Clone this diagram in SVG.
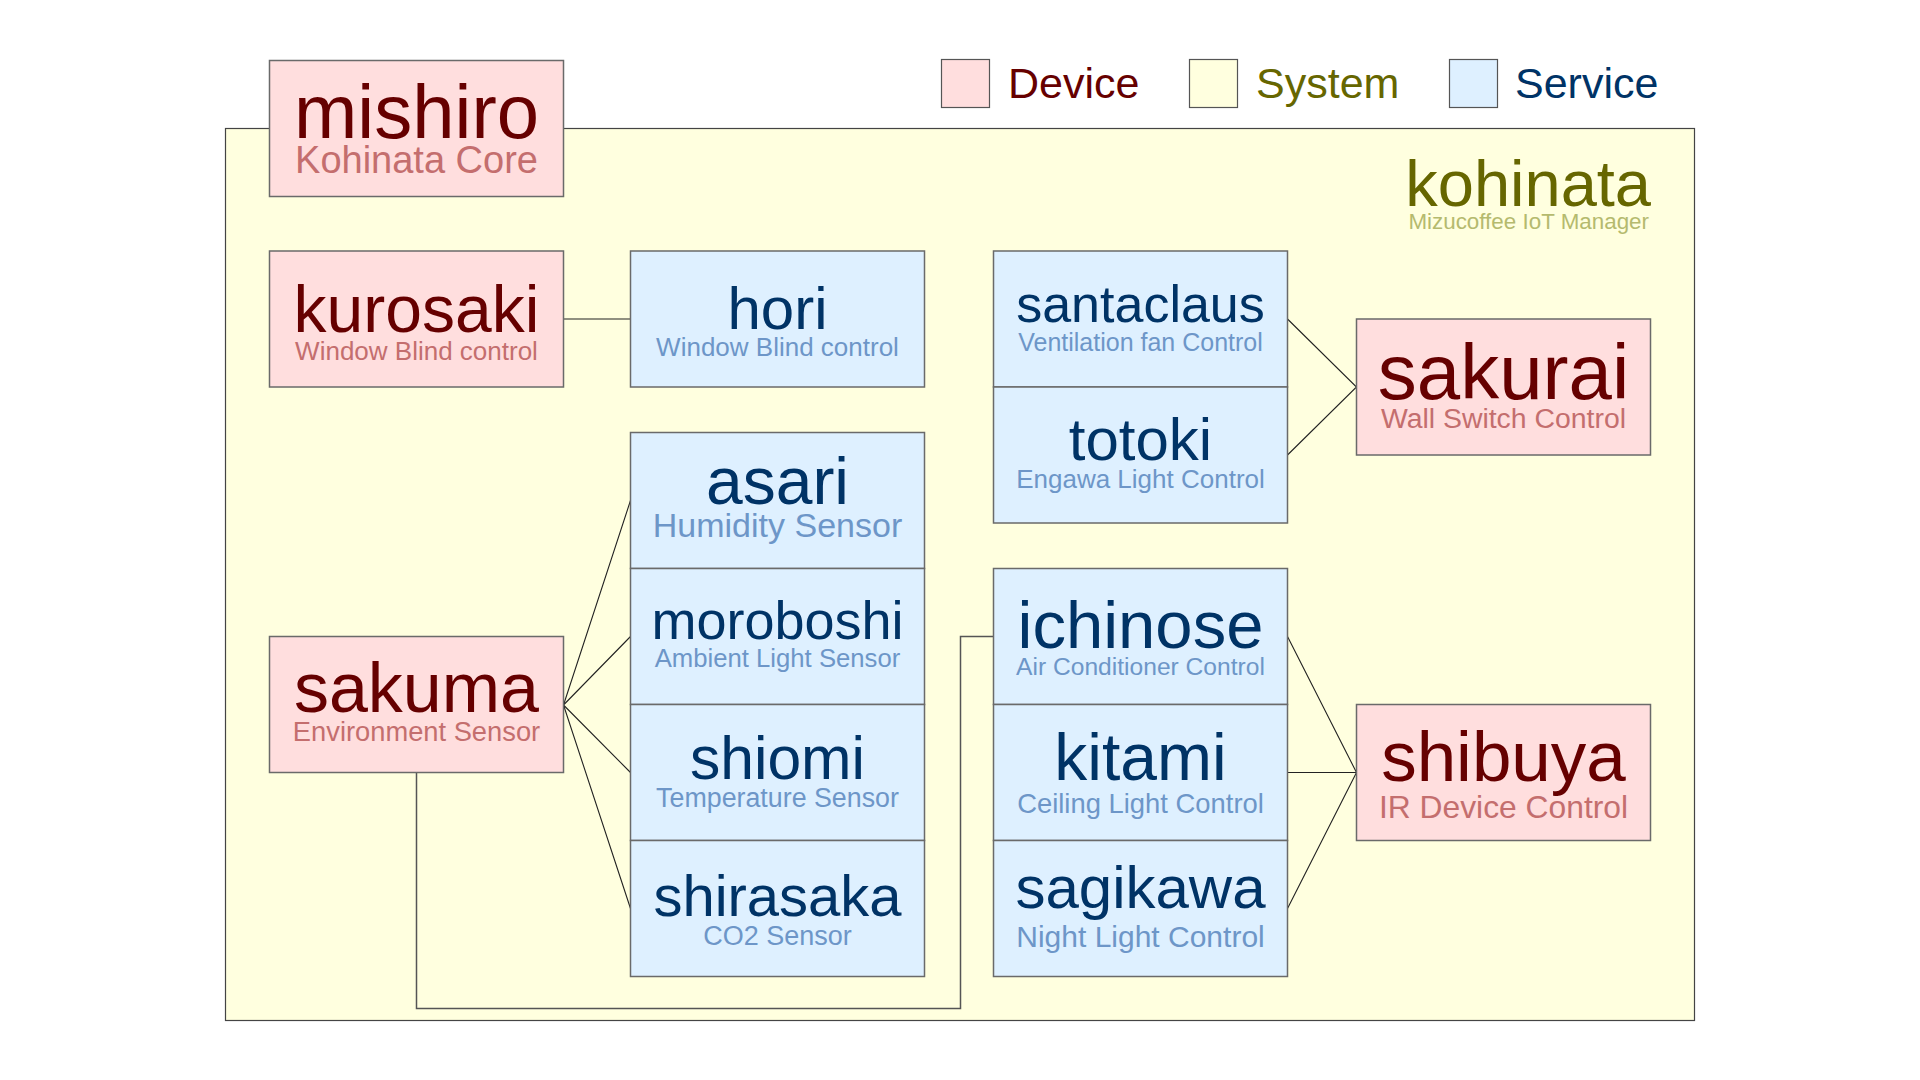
<svg xmlns="http://www.w3.org/2000/svg" width="1920" height="1080" viewBox="0 0 1920 1080">
<style>
text{font-family:"Liberation Sans",Arial,sans-serif;text-anchor:middle}
.dev rect{fill:#ffdede;stroke:#6a6a6a;stroke-width:1.5}
.svc rect{fill:#def0ff;stroke:#6a6a6a;stroke-width:1.5}
.dev .t{fill:#660000}
.dev .s{fill:#c46e6e}
.svc .t{fill:#003366}
.svc .s{fill:#6d96c8}
.sys{fill:#ffffdf;stroke:#444;stroke-width:1.2}
.sys-t{fill:#666600}
.sys-s{fill:#b5ba6e}
.conn{fill:none;stroke:#222;stroke-width:1.1}
.conn2{fill:none;stroke:#555;stroke-width:1.5}
.lg rect{stroke:#555;stroke-width:1.2}
.lg text{font-size:43px;text-anchor:start}
</style>
<rect width="1920" height="1080" fill="#ffffff"/>

<g id="kohinata">
<rect class="sys" x="225.5" y="128.5" width="1469" height="892"/>
<text class="sys-t" x="1651" y="206" font-size="65" style="text-anchor:end">kohinata</text>
<text class="sys-s" x="1649" y="229" font-size="22.4" style="text-anchor:end">Mizucoffee IoT Manager</text>
</g>

<g id="legend" class="lg">
<rect x="941.5" y="59.5" width="48" height="48" fill="#ffdede"/>
<text x="1008" y="98" fill="#660000">Device</text>
<rect x="1189.5" y="59.5" width="48" height="48" fill="#ffffdf"/>
<text x="1256" y="98" fill="#666600">System</text>
<rect x="1449.5" y="59.5" width="48" height="48" fill="#def0ff"/>
<text x="1515" y="98" fill="#003366">Service</text>
</g>

<g id="connectors">
<path class="conn" d="M563.5,319 H630.5"/>
<path class="conn" d="M563.5,705 L630.5,500.5 M563.5,705 L630.5,636.5 M563.5,705 L630.5,772.5 M563.5,705 L630.5,908.5"/>
<path class="conn2" d="M416.5,772.5 V1008.5 H960.5 V636.5 H993.5"/>
<path class="conn" d="M1287.5,319 L1356.5,387 L1287.5,455"/>
<path class="conn" d="M1287.5,636.5 L1356.5,772.5 L1287.5,908.5 M1287.5,772.5 H1356.5"/>
</g>

<g id="mishiro" class="dev">
<rect x="269.5" y="60.5" width="294" height="136"/>
<text class="t" x="416.5" y="138" font-size="76">mishiro</text>
<text class="s" x="416.5" y="172.5" font-size="38">Kohinata Core</text>
</g>

<g id="kurosaki" class="dev">
<rect x="269.5" y="251" width="294" height="136"/>
<text class="t" x="416.5" y="331.5" font-size="66">kurosaki</text>
<text class="s" x="416.5" y="359.5" font-size="26">Window Blind control</text>
</g>

<g id="hori" class="svc">
<rect x="630.5" y="251" width="294" height="136"/>
<text class="t" x="777.5" y="329" font-size="60">hori</text>
<text class="s" x="777.5" y="356" font-size="26">Window Blind control</text>
</g>

<g id="santaclaus" class="svc">
<rect x="993.5" y="251" width="294" height="136"/>
<text class="t" x="1140.5" y="321.5" font-size="52">santaclaus</text>
<text class="s" x="1140.5" y="351" font-size="25">Ventilation fan Control</text>
</g>

<g id="totoki" class="svc">
<rect x="993.5" y="387" width="294" height="136"/>
<text class="t" x="1140.5" y="460" font-size="60">totoki</text>
<text class="s" x="1140.5" y="488" font-size="26">Engawa Light Control</text>
</g>

<g id="sakurai" class="dev">
<rect x="1356.5" y="319" width="294" height="136"/>
<text class="t" x="1503.5" y="399" font-size="78">sakurai</text>
<text class="s" x="1503.5" y="428" font-size="28.4">Wall Switch Control</text>
</g>

<g id="asari" class="svc">
<rect x="630.5" y="432.5" width="294" height="136"/>
<text class="t" x="777.5" y="504" font-size="66">asari</text>
<text class="s" x="777.5" y="537" font-size="34">Humidity Sensor</text>
</g>

<g id="moroboshi" class="svc">
<rect x="630.5" y="568.5" width="294" height="136"/>
<text class="t" x="777.5" y="639" font-size="54">moroboshi</text>
<text class="s" x="777.5" y="667" font-size="25.7">Ambient Light Sensor</text>
</g>

<g id="shiomi" class="svc">
<rect x="630.5" y="704.5" width="294" height="136"/>
<text class="t" x="777.5" y="779" font-size="60.6">shiomi</text>
<text class="s" x="777.5" y="807" font-size="26.8">Temperature Sensor</text>
</g>

<g id="shirasaka" class="svc">
<rect x="630.5" y="840.5" width="294" height="136"/>
<text class="t" x="777.5" y="915.5" font-size="58">shirasaka</text>
<text class="s" x="777.5" y="945" font-size="27">CO2 Sensor</text>
</g>

<g id="sakuma" class="dev">
<rect x="269.5" y="636.5" width="294" height="136"/>
<text class="t" x="416.5" y="711.5" font-size="70">sakuma</text>
<text class="s" x="416.5" y="740.5" font-size="27.3">Environment Sensor</text>
</g>

<g id="ichinose" class="svc">
<rect x="993.5" y="568.5" width="294" height="136"/>
<text class="t" x="1140.5" y="647.5" font-size="67">ichinose</text>
<text class="s" x="1140.5" y="675" font-size="24.6">Air Conditioner Control</text>
</g>

<g id="kitami" class="svc">
<rect x="993.5" y="704.5" width="294" height="136"/>
<text class="t" x="1140.5" y="780" font-size="66">kitami</text>
<text class="s" x="1140.5" y="813" font-size="27.4">Ceiling Light Control</text>
</g>

<g id="sagikawa" class="svc">
<rect x="993.5" y="840.5" width="294" height="136"/>
<text class="t" x="1140.5" y="908" font-size="60">sagikawa</text>
<text class="s" x="1140.5" y="946.5" font-size="30">Night Light Control</text>
</g>

<g id="shibuya" class="dev">
<rect x="1356.5" y="704.5" width="294" height="136"/>
<text class="t" x="1503.5" y="781" font-size="71">shibuya</text>
<text class="s" x="1503.5" y="818" font-size="31.8">IR Device Control</text>
</g>
</svg>
